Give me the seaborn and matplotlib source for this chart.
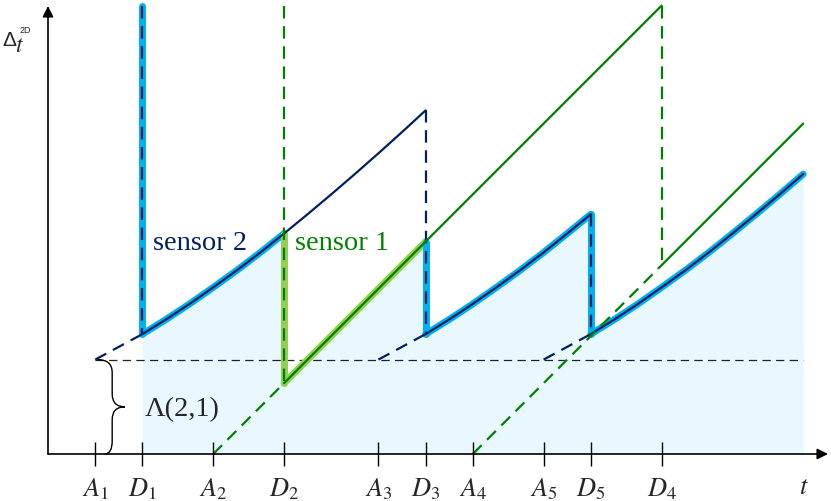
import matplotlib
matplotlib.use('Agg')
import matplotlib.pyplot as plt
import seaborn as sns
from matplotlib.path import Path
from matplotlib.patches import PathPatch

# event times on the t axis
arrivals = [2, 7, 14, 18, 21]
departures = [4, 10, 16, 26, 23]
arr_labels = [r'$A_1$', r'$A_2$', r'$A_3$', r'$A_4$', r'$A_5$']
dep_labels = [r'$D_1$', r'$D_2$', r'$D_3$', r'$D_4$', r'$D_5$']
lam = 4.0        # Lambda(2,1)
top_age = 19.0   # where the drops start off the top
t_end = 32

# sensor 2 age, read along each stretch
s2_t1 = [4, 5, 6, 7, 8, 9, 10, 11, 12, 13, 14, 15, 16]
s2_a1 = [5.08, 5.70, 6.36, 7.06, 7.78, 8.54, 9.34, 10.16, 11.0, 11.86, 12.74, 13.64, 14.56]
s2_t2 = [16, 17, 18, 19, 20, 21, 22, 23]
s2_a2 = [5.08, 5.70, 6.36, 7.06, 7.78, 8.54, 9.34, 10.16]
s2_t3 = [23, 24, 25, 26, 27, 28, 29, 30, 31, 32]
s2_a3 = [5.08, 5.70, 6.36, 7.06, 7.78, 8.54, 9.34, 10.16, 11.0, 11.86]

# sensor 1 age
s1_t1 = [10, 16, 26]
s1_a1 = [3, 9, 19]
s1_t2 = [26, 32]
s1_a2 = [8, 14]

NAVY = '#002060'
GREEN = '#008000'
SKY = '#00b0f0'
LIME = '#92d050'
FILL = '#e9f8fe'

sns.set_style('white')
plt.rcParams['font.family'] = ['Liberation Serif', 'DejaVu Serif']
plt.rcParams['mathtext.fontset'] = 'stix'
plt.rcParams['lines.scale_dashes'] = False

px = 23.6  # pixels per unit
fig = plt.figure(figsize=(8.31, 5.01), dpi=100)
ax = fig.add_axes([0, 0, 1, 1])
ax.set_xlim(-48 / px, (831 - 48) / px)
ax.set_ylim((454 - 501) / px, 454 / px)
ax.axis('off')


def seg(x, y, **kw):
    sns.lineplot(x=x, y=y, ax=ax, sort=False, estimator=None, **kw)


dash = (0, (9, 5.5))
n1 = s2_t1.index(departures[1]) + 1

# overall (minimum) age: shaded area
env_t = s2_t1[:n1] + s1_t1[:2] + s2_t2 + s2_t3
env_a = s2_a1[:n1] + s1_a1[:2] + s2_a2 + s2_a3
ax.fill_between(env_t, 0, env_a, color=FILL, lw=0, zorder=1)

# Lambda level
ax.plot([arrivals[0], t_end], [lam, lam], color='#222222', lw=0.9,
        ls=(0, (6, 3.8)), zorder=2)

# highlights of the min envelope
hl = dict(lw=5, solid_capstyle='round', zorder=3)
seg([departures[0], departures[0]], [top_age, s2_a1[0]], color=SKY, **hl)
seg(s2_t1[:n1], s2_a1[:n1], color=SKY, **hl)
seg([departures[1], departures[1]], [s2_a1[n1 - 1], s1_a1[0]], color=LIME, **hl)
seg(s1_t1[:2], s1_a1[:2], color=LIME, **hl)
seg([departures[2], departures[2]], [s1_a1[1], s2_a2[0]], color=SKY, **hl)
seg(s2_t2, s2_a2, color=SKY, **hl)
seg([departures[4], departures[4]], [s2_a2[-1], s2_a3[0]], color=SKY, **hl)
seg(s2_t3, s2_a3, color=SKY, **hl)

# sensor 2
thin = dict(lw=1.6, zorder=4)
seg(s2_t1, s2_a1, color=NAVY, **thin)
seg(s2_t2, s2_a2, color=NAVY, **thin)
seg(s2_t3, s2_a3, color=NAVY, **thin)
for a, d, start in [(arrivals[0], departures[0], s2_a1[0]),
                    (arrivals[2], departures[2], s2_a2[0]),
                    (arrivals[4], departures[4], s2_a3[0])]:
    seg([a, d], [lam, start], color=NAVY, ls=dash, **thin)
seg([departures[0], departures[0]], [top_age, s2_a1[0]], color=NAVY, ls=dash, **thin)
seg([departures[2], departures[2]], [s2_a1[-1], s2_a2[0]], color=NAVY, ls=dash, **thin)
seg([departures[4], departures[4]], [s2_a2[-1], s2_a3[0]], color=NAVY, ls=dash, **thin)

# sensor 1
seg(s1_t1, s1_a1, color=GREEN, **thin)
seg(s1_t2, s1_a2, color=GREEN, **thin)
seg([arrivals[1], departures[1]], [0, s1_a1[0]], color=GREEN, ls=dash, **thin)
seg([arrivals[3], departures[3]], [0, s1_a2[0]], color=GREEN, ls=dash, **thin)
seg([departures[1], departures[1]], [top_age, s1_a1[0]], color=GREEN, ls=dash, **thin)
seg([departures[3], departures[3]], [s1_a1[-1], s1_a2[0]], color=GREEN, ls=dash, **thin)

# axes with arrows
arr = dict(arrowstyle='-|>', color='black', lw=1.2, mutation_scale=16,
           shrinkA=0, shrinkB=0)
ax.annotate('', xy=((828 - 48) / px, 0), xytext=(0, 0), arrowprops=arr, zorder=5)
ax.annotate('', xy=(0, (454 - 6) / px), xytext=(0, 0), arrowprops=arr, zorder=5)

# ticks and labels
ticks = arrivals + departures
labels = arr_labels + dep_labels
ax.vlines(ticks, -0.5, 0.5, color='black', lw=1.0, zorder=5)
for t, lab in zip(ticks, labels):
    ax.text(t, -1.48, lab, ha='center', va='center', fontsize=19)
ax.text(32.03, -1.44, r'$t$', ha='center', va='center', fontsize=19)

# y label
ax.text(-1.65, 17.54, '\u0394', ha='center', va='center', fontsize=15,
        family=['Liberation Sans', 'DejaVu Sans'])
ax.text(-1.2, 17.25, r'$t$', ha='center', va='center', fontsize=17)
ax.text(-0.98, 17.95, '2D', ha='center', va='center', fontsize=6.5,
        family=['Liberation Sans', 'DejaVu Sans'])

# brace for Lambda
x0, xs, xt, r = 2.1, 2.72, 3.26, 0.55
ym = lam / 2
verts = [(x0, lam), (xs, lam), (xs, lam - r),
         (xs, ym + r),
         (xs, ym), (xt, ym),
         (xs, ym), (xs, ym - r),
         (xs, r),
         (xs, 0), (x0 + 0.3, 0)]
codes = [Path.MOVETO, Path.CURVE3, Path.CURVE3, Path.LINETO,
         Path.CURVE3, Path.CURVE3, Path.CURVE3, Path.CURVE3,
         Path.LINETO, Path.CURVE3, Path.CURVE3]
ax.add_patch(PathPatch(Path(verts, codes), fill=False, lw=1.0, color='black', zorder=5))
ax.text(4.11, 1.86, '\u039b(2,1)', ha='left', va='center', fontsize=20.5)

# sensor names
ax.text(4.45, 8.94, 'sensor 2', ha='left', va='center', fontsize=20.5, color=NAVY)
ax.text(10.47, 8.94, 'sensor 1', ha='left', va='center', fontsize=20.5, color=GREEN)

fig.savefig('out.png', dpi=100)
